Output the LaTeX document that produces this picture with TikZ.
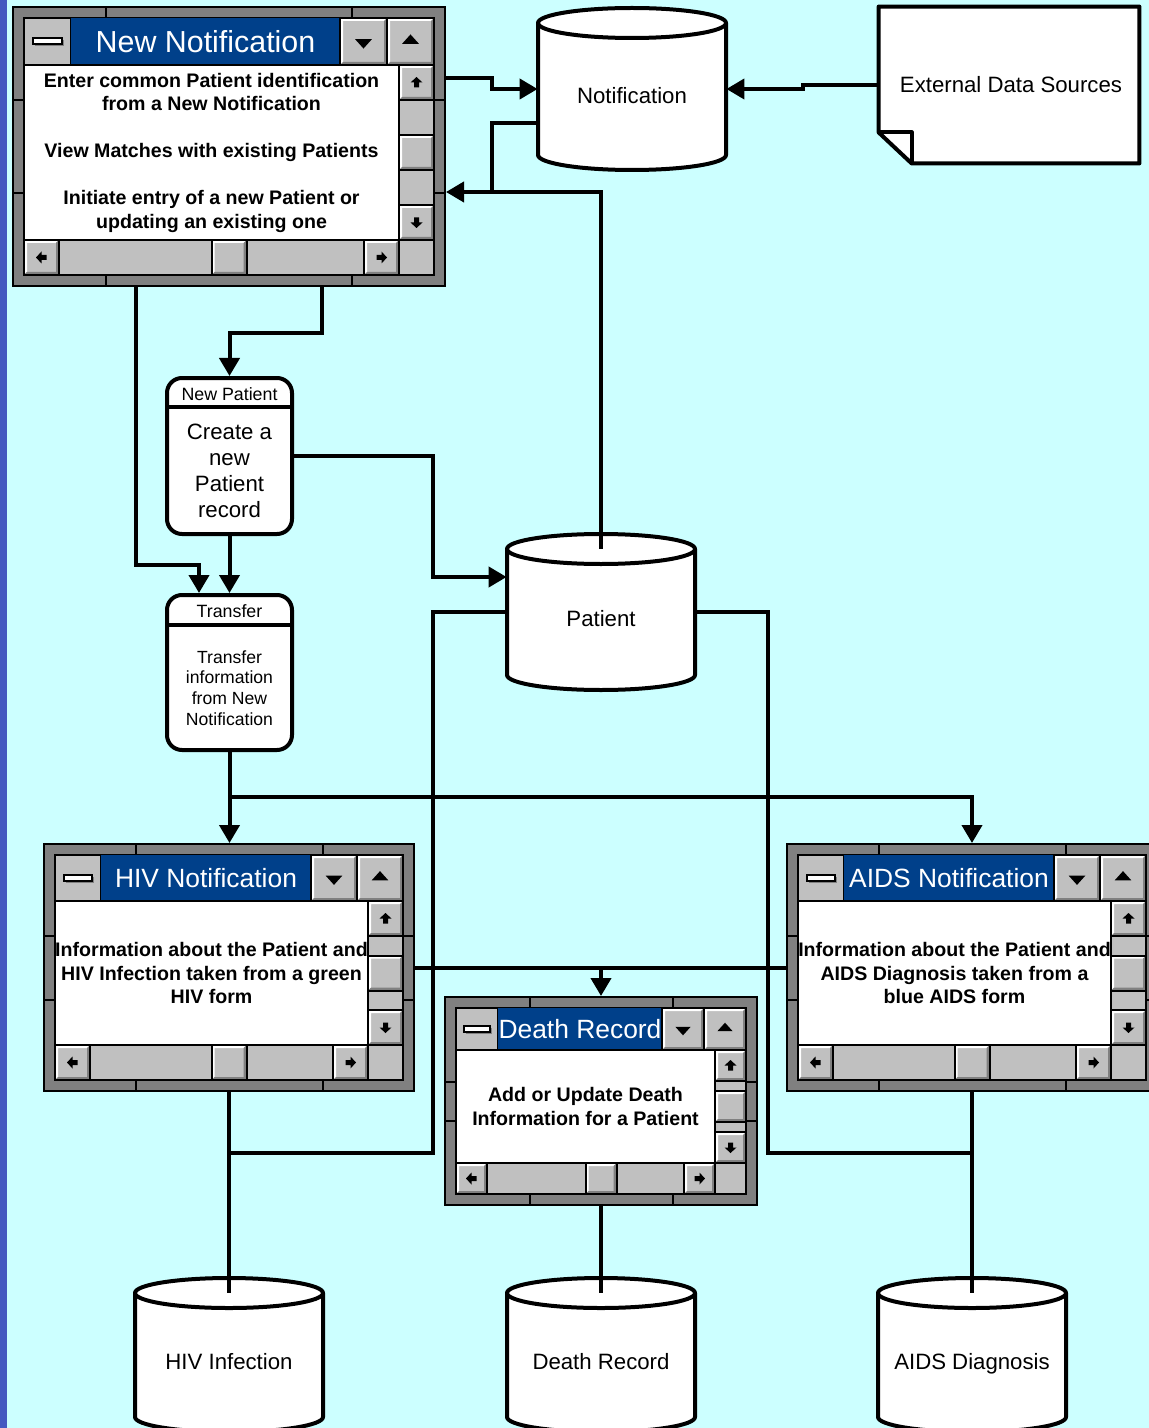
\documentclass[tikz,border=0pt]{standalone}
\usepackage{fontspec}
\setmainfont{Liberation Sans}
\usetikzlibrary{arrows.meta}
\definecolor{bgcyan}{HTML}{CCFFFF}
\definecolor{sidebar}{HTML}{4458C0}
\definecolor{framegray}{HTML}{808080}
\definecolor{btnface}{HTML}{C0C0C0}
\definecolor{btnshade}{HTML}{808080}
\definecolor{titleblue}{HTML}{00408A}
\tikzset{%
    conn/.style={line width=2pt},
    arr/.style={line width=2pt, -{Triangle[length=9pt,width=10pt]}},
    cyl/.style={line width=2pt, line join=round},
    winline/.style={line width=1pt},
    winframe/.style={draw, fill=framegray, line width=1pt, inner sep=0pt},
    proc/.style={draw, fill=white, line width=2pt, rounded corners=7.5pt, inner sep=0pt},
    spot/.style={inner sep=0pt},
    wintitle/.style={text=white, inner sep=0pt, font=\fontsize{13.2}{15}\selectfont},
    wintext/.style={align=center, inner sep=0pt, font=\bfseries\fontsize{9.8}{11.75}\selectfont},
    storetext/.style={inner sep=0pt, text depth=0pt, font=\fontsize{11.1}{13}\selectfont},
    prohead/.style={inner sep=0pt, font=\fontsize{8.9}{10}\selectfont},
    probody/.style={align=center, inner sep=0pt, font=\fontsize{11.1}{13}\selectfont},
    sarr/.pic={\fill (0,-5.5) -- (6,0) -- (2.5,0) -- (2.5,5) -- (-2.5,5) -- (-2.5,0) -- (-6,0) -- cycle;}
}
% 3d button: x0 y0 x1 y1
\newcommand\wbtn[4]{%
  \pgfmathsetmacro\bxa{#1}\pgfmathsetmacro\bya{#2}%
  \pgfmathsetmacro\bxb{#3}\pgfmathsetmacro\byb{#4}%
  \fill[btnface] (\bxa,\bya) rectangle (\bxb,\byb);
  \fill[white] (\bxa,\bya) -- (\bxb,\bya) -- ({\bxb-3},{\bya+3}) -- ({\bxa+3},{\bya+3}) -- ({\bxa+3},{\byb-3}) -- (\bxa,\byb) -- cycle;
  \fill[btnshade] (\bxb,\byb) -- (\bxa,\byb) -- ({\bxa+3},{\byb-3}) -- ({\bxb-3},{\byb-3}) -- ({\bxb-3},{\bya+3}) -- (\bxb,\bya) -- cycle;
  \draw[winline] (\bxa,\bya) rectangle (\bxb,\byb);
}
% window: inner x0 y0 x1 y1, title height, scroll width, title, text, name
\newcommand\appwin[9]{%
  \pgfmathsetmacro\wcx{(#1+#3)/2}\pgfmathsetmacro\wcy{(#2+#4)/2}%
  \pgfmathsetmacro\ww{(#3-#1+22)/2}\pgfmathsetmacro\wh{(#4-#2+22)/2}%
  \node[winframe, minimum width=\ww pt, minimum height=\wh pt] (#9) at (\wcx,\wcy) {};
  \pgfmathsetmacro\wtk{1.75*#5}%
  \draw[winline] ({#1+\wtk},{#2-11}) -- ++(0,11) ({#3-\wtk},{#2-11}) -- ++(0,11)
     ({#1+\wtk},#4) -- ++(0,11) ({#3-\wtk},#4) -- ++(0,11)
     ({#1-11},{#2+\wtk}) -- ++(11,0) ({#1-11},{#4-\wtk}) -- ++(11,0)
     (#3,{#2+\wtk}) -- ++(11,0) (#3,{#4-\wtk}) -- ++(11,0);
  \draw[winline, fill=btnface] (#1,#2) rectangle (#3,#4);
  % control box
  \pgfmathsetmacro\wbx{#1+#5/2}\pgfmathsetmacro\wby{#2+#5/2}\pgfmathsetmacro\wbw{0.31*#5}%
  \fill[btnshade] ({\wbx-\wbw+2},{\wby-1}) rectangle ({\wbx+\wbw+2},{\wby+5});
  \draw[winline, fill=white] ({\wbx-\wbw},{\wby-3}) rectangle ({\wbx+\wbw},{\wby+3});
  \draw[winline] ({#1+#5},#2) -- ({#1+#5},{#2+#5});
  % title bar
  \fill[titleblue] ({#1+#5},#2) rectangle ({#3-2*#5},{#2+#5});
  \node[wintitle] at ({(#1+#3-#5)/2},\wby) {#7};
  \wbtn{#3-2*#5}{#2}{#3-#5}{#2+#5}
  \wbtn{#3-#5}{#2}{#3}{#2+#5}
  \pgfmathsetmacro\wdx{#3-1.5*#5}\pgfmathsetmacro\wux{#3-0.5*#5}\pgfmathsetmacro\wtw{0.18*#5}%
  \fill ({\wdx-\wtw},{\wby-0.05*#5}) -- ({\wdx+\wtw},{\wby-0.05*#5}) -- (\wdx,{\wby+0.15*#5}) -- cycle;
  \fill ({\wux-\wtw},{\wby+0.05*#5}) -- ({\wux+\wtw},{\wby+0.05*#5}) -- (\wux,{\wby-0.15*#5}) -- cycle;
  \draw[winline] (#1,{#2+#5}) -- (#3,{#2+#5});
  % client area and scroll bars
  \draw[winline, fill=white] (#1,{#2+#5}) rectangle ({#3-#6},{#4-#6});
  \draw[winline] ({#3-#6},{#2+#5}) rectangle (#3,{#4-#6}) (#1,{#4-#6}) rectangle ({#3-#6},#4);
  \pgfmathsetmacro\wvy{(#2+#5+#4-#6)/2}\pgfmathsetmacro\whx{(#1+#3)/2}%
  \wbtn{#3-#6}{#2+#5}{#3}{#2+#5+#6}
  \wbtn{#3-#6}{\wvy-#6/2}{#3}{\wvy+#6/2}
  \wbtn{#3-#6}{#4-2*#6}{#3}{#4-#6}
  \wbtn{#1}{#4-#6}{#1+#6}{#4}
  \wbtn{\whx-#6/2}{#4-#6}{\whx+#6/2}{#4}
  \wbtn{#3-2*#6}{#4-#6}{#3-#6}{#4}
  \pic at ({#3-#6/2},{#2+#5+#6/2}) {sarr};
  \pic[rotate=180] at ({#3-#6/2},{#4-1.5*#6}) {sarr};
  \pic[rotate=90] at ({#1+#6/2},{#4-#6/2}) {sarr};
  \pic[rotate=-90] at ({#3-1.5*#6},{#4-#6/2}) {sarr};
  \node[wintext] at ({(#1+#3-#6)/2},\wvy) {#8};
}
% data store: name, centre x, top, bottom, text
\newcommand\store[5]{%
  \pgfmathsetmacro\sh{(#4-#3)/2}\pgfmathsetmacro\sy{(#3+#4)/2}%
  \node[spot, minimum width=94pt, minimum height=\sh pt] (#1) at (#2,\sy) {};
  \fill[white] ({#2-94},{#3+15}) -- ({#2-94},{#4-15}) arc[start angle=180, end angle=0, x radius=94, y radius=15] -- ({#2+94},{#3+15}) -- cycle;
  \draw[cyl] ({#2-94},{#3+15}) -- ({#2-94},{#4-15}) arc[start angle=180, end angle=0, x radius=94, y radius=15] -- ({#2+94},{#3+15});
  \draw[cyl, fill=white] (#2,{#3+15}) ellipse [x radius=94, y radius=15];
  \node[storetext] at (#2,{\sy+6}) {#5};
}

\begin{document}
\begin{tikzpicture}[x=0.5pt, y=-0.5pt]
    \useasboundingbox (0,0) rectangle (1149,1428);
    \clip (0,0) rectangle (1149,1428);
    \fill[bgcyan] (0,0) rectangle (1149,1428);
    \fill[sidebar] (0,0) rectangle (7,1428);

    % stores
    \store{notif}{632}{8}{170}{Notification}
    \store{pat}{601}{534}{690}{Patient}
    \store{hivinf}{229}{1278}{1432}{HIV Infection}
    \store{deathrec}{601}{1278}{1432}{Death Record}
    \store{aidsdx}{972}{1278}{1432}{AIDS Diagnosis}

    % external document
    \node[spot, minimum width=130pt, minimum height=78pt] (extsrc) at (1009,85) {};
    \draw[cyl, fill=white] (extsrc.north west) -- (extsrc.north east) -- (extsrc.south east) -- ([xshift=16.5pt]extsrc.south west) -- ([yshift=15.5pt]extsrc.south west) -- cycle;
    \draw[cyl] ([yshift=15.5pt]extsrc.south west) -| ([xshift=16.5pt]extsrc.south west);
    \node[storetext] at (1011,84) {External Data Sources};

    % processes
    \node[proc, minimum width=62.5pt, minimum height=78pt] (newpat) at (229.5,456) {};
    \draw[conn] ([yshift=-15.5pt]newpat.north west) -- ([yshift=-15.5pt]newpat.north east);
    \node[prohead] at (229.5,394) {New Patient};
    \node[probody] at (229.5,471) {Create a\\new\\Patient\\record};
    \node[proc, minimum width=62.5pt, minimum height=77.5pt] (trans) at (229.5,672.5) {};
    \draw[conn] ([yshift=-16pt]trans.north west) -- ([yshift=-16pt]trans.north east);
    \node[prohead] at (229.5,611) {Transfer};
    \node[probody, font=\fontsize{8.8}{10.35}\selectfont] at (229.5,688) {Transfer\\information\\from New\\Notification};

    % windows
    \appwin{24}{18}{434}{275}{47}{35}{\fontsize{15.2}{17}\selectfont New Notification}{Enter common Patient identification\\from a New Notification\\[11.75pt]View Matches with existing Patients\\[11.75pt]Initiate entry of a new Patient or\\updating an existing one}{nn}
    \appwin{55}{855}{403}{1080}{46}{35}{HIV Notification}{Information about the Patient and\\HIV Infection taken from a green\\HIV form}{hiv}
    \appwin{456}{1008}{746}{1194}{42}{31}{Death Record}{Add or Update Death\\Information for a Patient}{death}
    \appwin{798}{855}{1146}{1080}{46}{35}{AIDS Notification}{Information about the Patient and\\AIDS Diagnosis taken from a\\blue AIDS form}{aids}

    % connectors
    \draw[arr] (nn.east |- 0,78) -- (492,78) |- (notif.west);
    \draw[conn] (notif.west |- 0,123) -| (492,192);
    \draw[arr] ([yshift=-7.5pt]pat.north) |- (nn.east |- 0,192);
    \draw[arr] (extsrc.west) -- (803,85) |- (notif.east);
    \draw[arr] (nn.south -| 322,0) -- ++(0,46) -| (newpat.north);
    \draw[arr] (nn.south -| 136,0) |- (199,565) -- (trans.north -| 199,0);
    \draw[arr] (newpat.south) -- (trans.north);
    \draw[arr] (newpat.east) -| (433,577) -- (pat.west |- 0,577);
    \draw[arr] (trans.south) -- (trans.south |- hiv.north);
    \draw[arr] (trans.south |- 0,797) -| (aids.north);
    \draw[conn] (hiv.east) -- (aids.west);
    \draw[arr] (death.north |- hiv.east) -- (death.north);
    \draw[conn] (hiv.south) -- ([yshift=-7.5pt]hivinf.north);
    \draw[conn] (death.south) -- ([yshift=-7.5pt]deathrec.north);
    \draw[conn] (aids.south) -- ([yshift=-7.5pt]aidsdx.north);
    \draw[conn] (pat.west) -| (433,1153) -- (hiv.south |- 0,1153);
    \draw[conn] (pat.east) -| (768,1153) -- (aids.south |- 0,1153);
\end{tikzpicture}
\end{document}
